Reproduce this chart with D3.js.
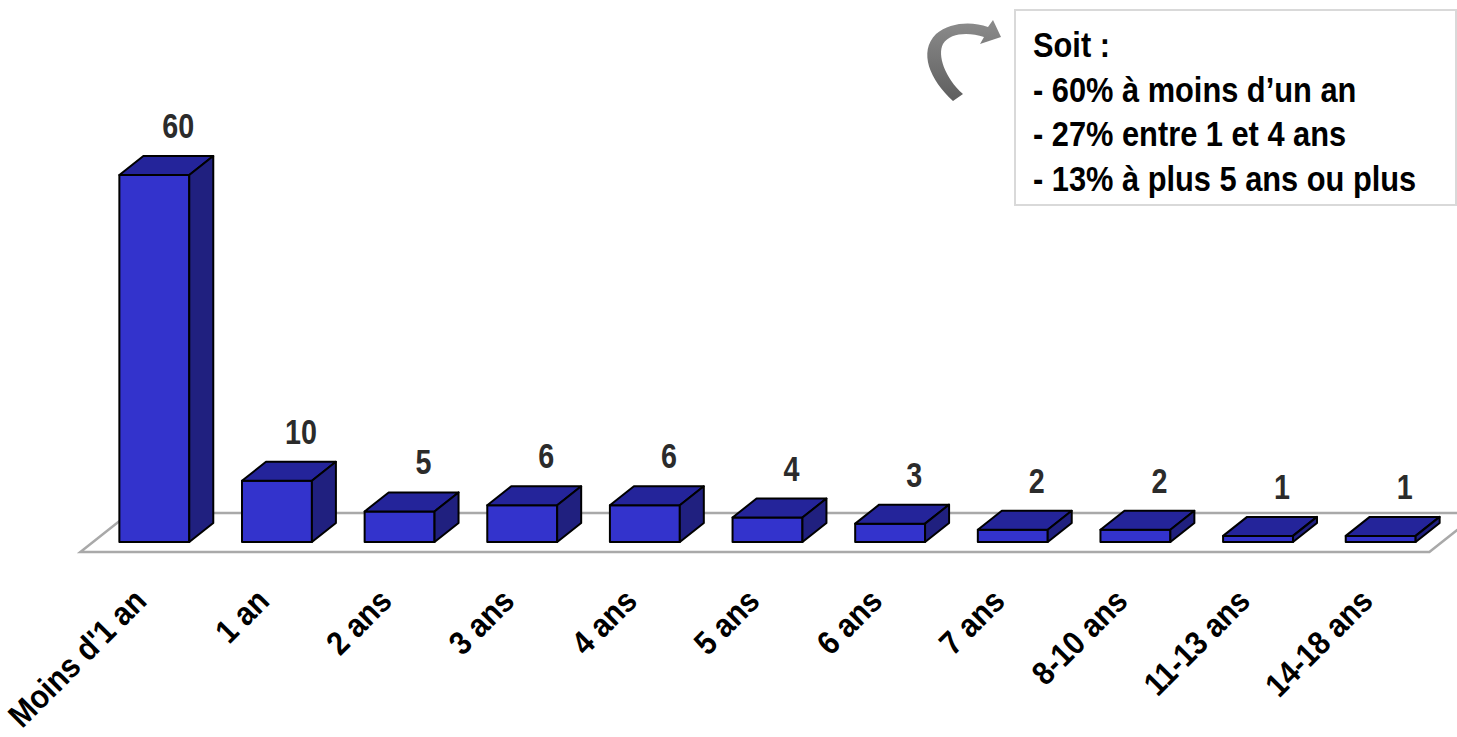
<!DOCTYPE html>
<html>
<head>
<meta charset="utf-8">
<script src="https://cdn.jsdelivr.net/npm/d3@7/dist/d3.min.js"></script>
<style>
  html, body { margin: 0; padding: 0; background: #fff; }
  svg { display: block; }
  text { font-family: "Liberation Sans", Arial, sans-serif; font-weight: bold; }
</style>
</head>
<body>
<svg id="chart" width="1457" height="737"></svg>
<script>
// Ancienneté : nombre de personnes par tranche
const categories = ["Moins d'1 an", "1 an", "2 ans", "3 ans", "4 ans", "5 ans", "6 ans", "7 ans", "8-10 ans", "11-13 ans", "14-18 ans"];
const values = [60, 10, 5, 6, 6, 4, 3, 2, 2, 1, 1];
const noteLines = ["Soit :", "- 60% à moins d’un an", "- 27% entre 1 et 4 ans", "- 13% à plus 5 ans ou plus"];

const svg = d3.select("#chart");

// pseudo-3D depth of each bar and of the floor margins
const dx = 24, dy = 19;
const floorMargin = 10;               // floor extends this far in front of / behind the bars (vertical px)
const k = dx / dy;

// condensed look for the bold sans: horizontal squeeze factors
const squeezeNote = 0.88, squeezeValue = 0.82, squeezeCat = 0.9;

const x = d3.scaleBand()
  .domain(categories)
  .range([93, 1442])
  .paddingInner(0.43)
  .paddingOuter(0.215);

const y = d3.scaleLinear()
  .domain([0, 60])
  .range([542, 175]);

const y0 = y(0);
const [r0, r1] = x.range();

// floor (parallelogram under the bars)
const fFrontY = y0 + floorMargin;
const fBackY = y0 - dy - floorMargin;
const fFrontShift = -floorMargin * k;
const fBackShift = (dy + floorMargin) * k;
const floorPts = [
  [r0 + fFrontShift, fFrontY],
  [r1 + fFrontShift, fFrontY],
  [r1 + fBackShift, fBackY],
  [r0 + fBackShift, fBackY]
];
svg.append("polygon")
  .attr("points", floorPts.map(p => p.join(",")).join(" "))
  .attr("fill", "#fff")
  .attr("stroke", "#a9a9a9")
  .attr("stroke-width", 2.5);

// bars
const frontColor = "#3333cc", topColor = "#24249a", sideColor = "#20207f";
const barData = categories.map((c, i) => ({ c, v: values[i] }));
const bars = svg.append("g").selectAll("g")
  .data(barData)
  .join("g")
  .attr("stroke", "#000")
  .attr("stroke-width", 2)
  .attr("stroke-linejoin", "round");

bars.append("rect")
  .attr("x", d => x(d.c))
  .attr("y", d => y(d.v))
  .attr("width", x.bandwidth())
  .attr("height", d => y0 - y(d.v))
  .attr("fill", frontColor);

bars.append("polygon")
  .attr("fill", topColor)
  .attr("points", d => {
    const xl = x(d.c), xr = xl + x.bandwidth(), yt = y(d.v);
    return [[xl, yt], [xl + dx, yt - dy], [xr + dx, yt - dy], [xr, yt]].map(p => p.join(",")).join(" ");
  });

bars.append("polygon")
  .attr("fill", sideColor)
  .attr("points", d => {
    const xr = x(d.c) + x.bandwidth(), yt = y(d.v);
    return [[xr, yt], [xr + dx, yt - dy], [xr + dx, y0 - dy], [xr, y0]].map(p => p.join(",")).join(" ");
  });

// value labels, centred over the back face
svg.append("g").selectAll("text")
  .data(barData)
  .join("text")
  .attr("transform", d => `translate(${x(d.c) + x.bandwidth() / 2 + dx},${y(d.v) - dy - 18}) scale(${squeezeValue},1)`)
  .attr("text-anchor", "middle")
  .attr("font-size", 35)
  .attr("fill", "#2b2b2b")
  .text(d => d.v);

// category labels, rotated
svg.append("g").selectAll("text")
  .data(categories)
  .join("text")
  .attr("transform", c => `translate(${x(c) + x.bandwidth() / 2 - 6},603) rotate(-45) scale(${squeezeCat},1)`)
  .attr("text-anchor", "end")
  .attr("font-size", 33)
  .attr("fill", "#000")
  .text(c => c);

// note box
const note = svg.append("g");
note.append("rect")
  .attr("x", 1015).attr("y", 10)
  .attr("width", 441).attr("height", 195)
  .attr("fill", "#fff")
  .attr("stroke", "#d9d9d9")
  .attr("stroke-width", 2);
note.selectAll("text")
  .data(noteLines)
  .join("text")
  .attr("transform", (d, i) => `translate(1033,${57 + i * 44.5}) scale(${squeezeNote},1)`)
  .attr("font-size", 35)
  .attr("fill", "#000")
  .text(d => d);

// curved arrow pointing at the note
const defs = svg.append("defs");
const grad = defs.append("linearGradient")
  .attr("id", "arrowGrad")
  .attr("x1", 0).attr("y1", 0).attr("x2", 0).attr("y2", 1);
grad.append("stop").attr("offset", 0).attr("stop-color", "#8c8c8c");
grad.append("stop").attr("offset", 1).attr("stop-color", "#5e5e5e");

svg.append("path")
  .attr("d", "M953,101 C930,80 918,52 936,34 C950,22 972,21 988,27 L993,20 L1001,37 L980,44 L984,37 C968,32 950,33 943,44 C937,55 945,78 963,94 Z")
  .attr("fill", "url(#arrowGrad)");
</script>
</body>
</html>
